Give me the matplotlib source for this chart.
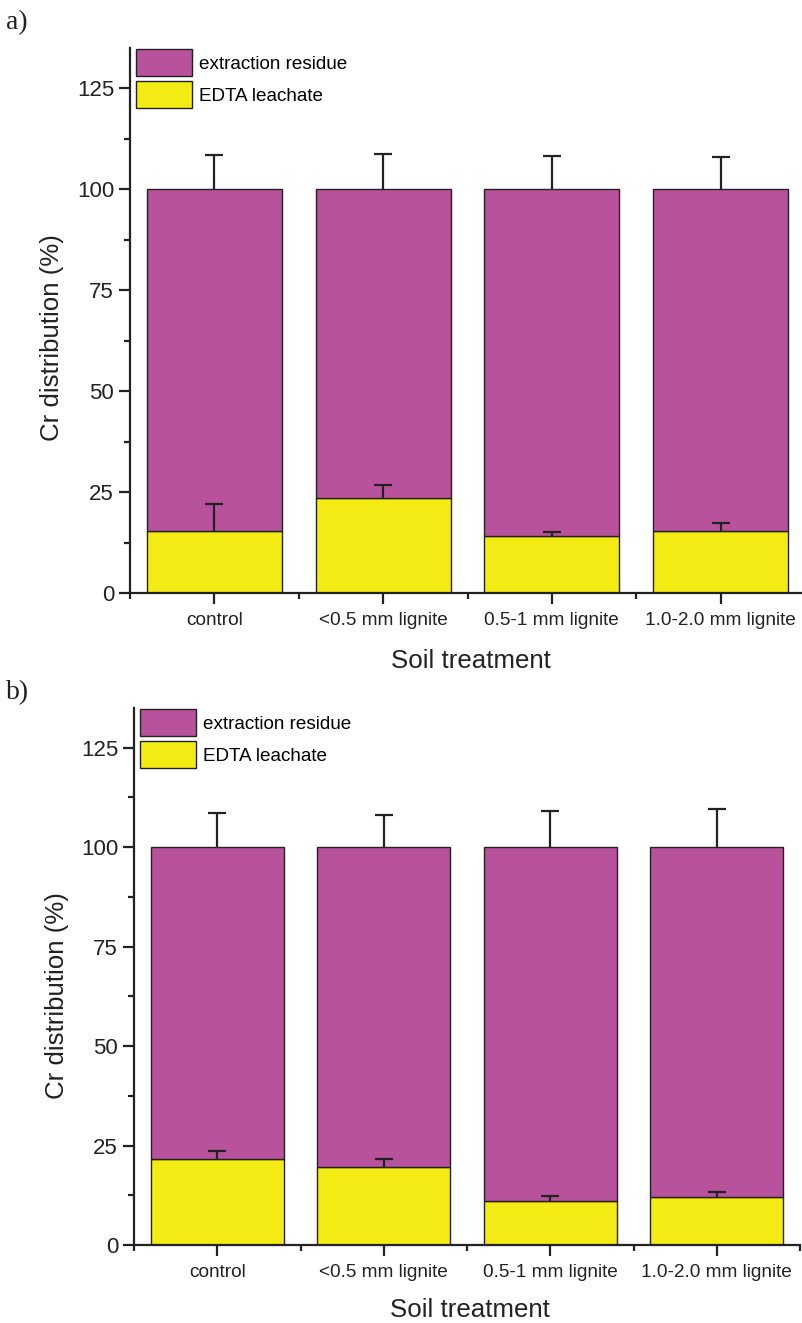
import matplotlib
matplotlib.use("Agg")
import matplotlib.pyplot as plt
from matplotlib.ticker import MultipleLocator, FixedLocator
from matplotlib.patches import Patch
import numpy as np

plt.rcParams['font.family'] = ['Liberation Sans', 'DejaVu Sans']

categories = ["control", "<0.5 mm lignite", "0.5-1 mm lignite", "1.0-2.0 mm lignite"]
series_names = ["extraction residue", "EDTA leachate"]

edta_a = [15.4, 23.6, 14.1, 15.4]
edta_err_a = [6.7, 3.2, 1.0, 2.0]
total_a = [100, 100, 100, 100]
total_err_a = [8.4, 8.7, 8.3, 7.9]

edta_b = [21.7, 19.6, 11.1, 12.1]
edta_err_b = [2.0, 2.1, 1.2, 1.3]
total_b = [100, 100, 100, 100]
total_err_b = [8.6, 8.1, 9.1, 9.6]

PURPLE = "#B8529C"
YELLOW = "#F5EB14"
DARK = "#222222"
W, H = 802, 1323
fig = plt.figure(figsize=(W / 100, H / 100), dpi=100)

LEG_FS = 13.6
LEG_HH = 1.82
FS_PX = LEG_FS * 100 / 72


def upper_errorbar(ax, x, y, err):
    eb = ax.errorbar(x, y, yerr=[np.zeros(len(x)), err], fmt="none", ecolor=DARK,
                     elinewidth=1.6, capsize=6.3, capthick=1.6, zorder=4)
    caps = eb[1]
    if len(caps) == 2:
        caps[0].set_visible(False)
    return eb


def panel(rect, edta, edta_err, total, total_err, label, label_xy, xlab_y, ylab_xy):
    l, t, r, b = rect
    ax = fig.add_axes([l / W, 1 - b / H, (r - l) / W, (b - t) / H])
    x = np.arange(len(categories))
    resid = np.array(total) - np.array(edta)
    ax.bar(x, edta, width=0.8, color=YELLOW, edgecolor=DARK, linewidth=1.0, zorder=2)
    ax.bar(x, resid, bottom=edta, width=0.8, color=PURPLE, edgecolor=DARK, linewidth=1.0, zorder=2)
    upper_errorbar(ax, x, edta, edta_err)
    upper_errorbar(ax, x, total, total_err)
    ax.set_xlim(-0.5, 3.5)
    ax.set_ylim(0, 135)
    for s in ["top", "right"]:
        ax.spines[s].set_visible(False)
    for s in ["left", "bottom"]:
        ax.spines[s].set_linewidth(1.6)
        ax.spines[s].set_color(DARK)
    ax.yaxis.set_major_locator(MultipleLocator(25))
    ax.yaxis.set_minor_locator(MultipleLocator(12.5))
    ax.set_xticks(x)
    ax.set_xticklabels(categories, fontsize=13.7, color=DARK)
    ax.xaxis.set_minor_locator(FixedLocator([-0.5, 0.5, 1.5, 2.5, 3.5]))
    ax.tick_params(axis="both", which="major", direction="out", length=8, width=1.6, color=DARK)
    ax.tick_params(axis="both", which="minor", direction="out", length=4, width=1.6, color=DARK)
    ax.tick_params(axis="y", labelsize=16, pad=3.5, labelcolor=DARK)
    ax.tick_params(axis="x", pad=5.5, labelcolor=DARK)
    fig.text(ylab_xy[0] / W, 1 - ylab_xy[1] / H, "Cr distribution (%)", fontsize=18.6,
             rotation=90, ha="center", va="center", color=DARK)
    fig.text(((l + r) / 2 + 3) / W, 1 - xlab_y / H, "Soil treatment", fontsize=18.6,
             ha="center", va="center", color=DARK)
    handles = [Patch(facecolor=PURPLE, edgecolor=DARK, linewidth=1.0),
               Patch(facecolor=YELLOW, edgecolor=DARK, linewidth=1.0)]
    top_px = t + 1
    ax.legend(handles, series_names, loc="upper left",
              bbox_to_anchor=(6 / (r - l), (b - top_px) / (b - t)), frameon=False,
              fontsize=LEG_FS, handlelength=2.95, handleheight=LEG_HH,
              labelspacing=5 / FS_PX,
              handletextpad=0.37, borderaxespad=0.0, borderpad=0.0)
    fig.text(label_xy[0] / W, 1 - label_xy[1] / H, label, fontsize=20,
             family=["Liberation Serif", "DejaVu Serif"], ha="left", va="center", color=DARK)
    return ax


panel((130, 48, 805, 593), edta_a, edta_err_a, total_a, total_err_a, "a)", (6, 23), 661, (52, 338))
panel((134, 708, 800, 1245), edta_b, edta_err_b, total_b, total_err_b, "b)", (6, 693), 1310, (57, 996))

fig.savefig("out.png", dpi=100)
